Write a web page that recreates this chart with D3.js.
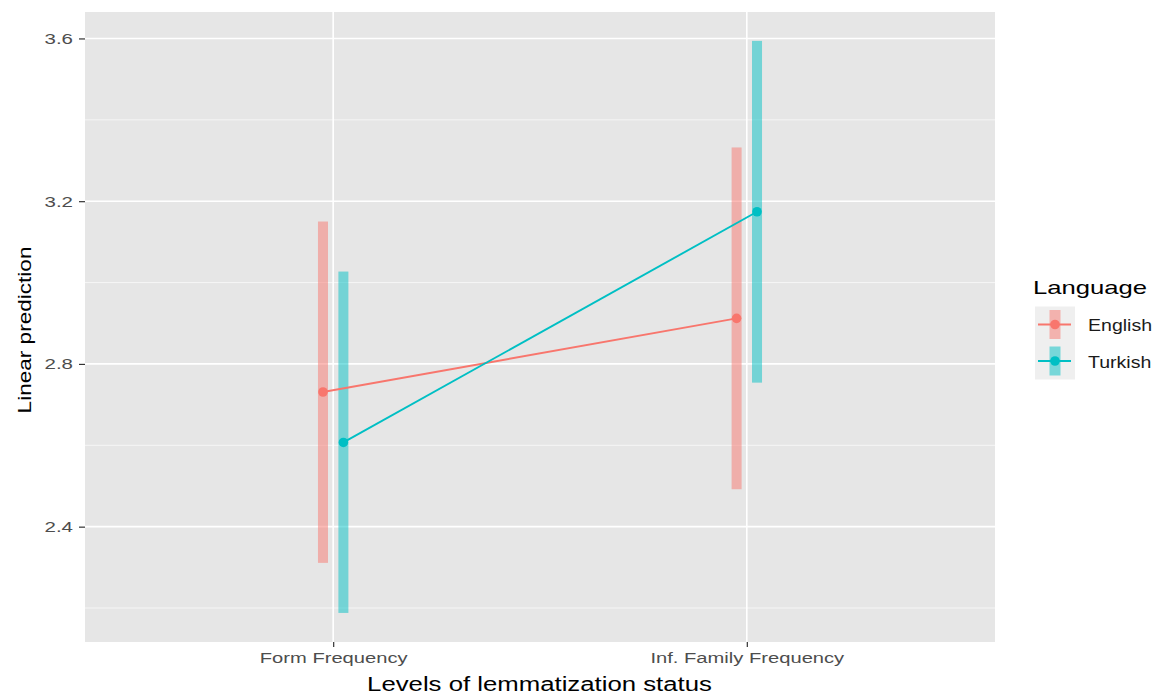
<!DOCTYPE html>
<html>
<head>
<meta charset="utf-8">
<script src="https://cdn.jsdelivr.net/npm/d3@7"></script>
<style>
  body { margin: 0; background: #fff; }
  text { font-family: "Liberation Sans", Arial, sans-serif; }
</style>
</head>
<body>
<script>
// data
var levels = ["Form Frequency", "Inf. Family Frequency"];
var languages = ["English", "Turkish"];
var colors = ["#F8766D", "#00BFC4"];
var fitEnglish = [2.731, 2.912];
var lowEnglish = [2.311, 2.492];
var highEnglish = [3.150, 3.332];
var fitTurkish = [2.607, 3.174];
var lowTurkish = [2.188, 2.754];
var highTurkish = [3.027, 3.594];
var yTicks = [2.4, 2.8, 3.2, 3.6];
var yMinor = [2.2, 2.6, 3.0, 3.4];

var series = [
  {lang: languages[0], fit: fitEnglish, low: lowEnglish, high: highEnglish},
  {lang: languages[1], fit: fitTurkish, low: lowTurkish, high: highTurkish}
];

var W = 1161, H = 698;
var panel = {left: 85, top: 12, right: 995, bottom: 642};

var svg = d3.select("body").append("svg")
    .attr("width", W).attr("height", H);

// the reference text is rendered wider than Liberation Sans, stretch it
function widen(sel, k) {
  sel.each(function() {
    d3.select(this)
      .attr("textLength", this.getComputedTextLength() * k)
      .attr("lengthAdjust", "spacingAndGlyphs");
  });
}

var x = d3.scalePoint().domain(levels)
    .range([panel.left, panel.right]).padding(0.6);
var dodge = d3.scalePoint().domain(languages).range([-10.2, 10.2]);
var y = d3.scaleLinear().domain([2.1165, 3.665])
    .range([panel.bottom, panel.top]);
var color = d3.scaleOrdinal().domain(languages).range(colors);

// panel background + grid
svg.append("rect")
  .attr("x", panel.left).attr("y", panel.top)
  .attr("width", panel.right - panel.left).attr("height", panel.bottom - panel.top)
  .attr("fill", "#E6E6E6");

svg.selectAll(".minor").data(yMinor).enter().append("line")
  .attr("x1", panel.left).attr("x2", panel.right)
  .attr("y1", d => y(d)).attr("y2", d => y(d))
  .attr("stroke", "#F7F7F7").attr("stroke-width", 0.9);

svg.selectAll(".major").data(yTicks).enter().append("line")
  .attr("x1", panel.left).attr("x2", panel.right)
  .attr("y1", d => y(d)).attr("y2", d => y(d))
  .attr("stroke", "#fff").attr("stroke-width", 1.6);

svg.selectAll(".vmajor").data(levels).enter().append("line")
  .attr("x1", d => x(d)).attr("x2", d => x(d))
  .attr("y1", panel.top).attr("y2", panel.bottom)
  .attr("stroke", "#fff").attr("stroke-width", 1.6);

// axes
var yAxis = svg.append("g")
  .attr("transform", "translate(" + panel.left + ",0)")
  .call(d3.axisLeft(y).tickValues(yTicks).tickFormat(d3.format(".1f")).tickSize(6).tickPadding(6));
var xAxis = svg.append("g")
  .attr("transform", "translate(0," + panel.bottom + ")")
  .call(d3.axisBottom(x).tickSize(5).tickPadding(5));

[yAxis, xAxis].forEach(function(a) {
  a.select(".domain").remove();
  a.selectAll(".tick line").attr("stroke", "#333").attr("stroke-width", 1.2);
  a.selectAll(".tick text").attr("fill", "#4D4D4D")
    .style("font-size", "15.5px").style("font-family", "Liberation Sans, Arial, sans-serif");
});
widen(yAxis.selectAll(".tick text"), 1.32);
widen(xAxis.selectAll(".tick text"), 1.3);

// error bars
series.forEach(function(s) {
  var g = svg.append("g");
  g.selectAll("rect").data(levels).enter().append("rect")
    .attr("x", (d) => x(d) + dodge(s.lang) - 5)
    .attr("width", 10)
    .attr("y", (d, i) => y(s.high[i]))
    .attr("height", (d, i) => y(s.low[i]) - y(s.high[i]))
    .attr("fill", color(s.lang)).attr("opacity", 0.5);
});

// lines + points
var line = d3.line();
series.forEach(function(s) {
  var pts = levels.map((d, i) => [x(d) + dodge(s.lang), y(s.fit[i])]);
  svg.append("path").attr("d", line(pts))
    .attr("fill", "none").attr("stroke", color(s.lang)).attr("stroke-width", 1.9);
  svg.selectAll(null).data(pts).enter().append("circle")
    .attr("cx", d => d[0]).attr("cy", d => d[1]).attr("r", 4.8)
    .attr("fill", color(s.lang));
});

// axis titles
svg.append("text")
  .attr("x", (panel.left + panel.right) / 2 - 0.5).attr("y", 691)
  .attr("text-anchor", "middle").style("font-size", "19.5px").attr("fill", "#000")
  .text("Levels of lemmatization status")
  .call(widen, 1.32);
svg.append("text")
  .attr("transform", "translate(31,330) rotate(-90)")
  .attr("text-anchor", "middle").style("font-size", "18.5px").attr("fill", "#000")
  .text("Linear prediction")
  .call(widen, 1.22);

// legend
var leg = svg.append("g").attr("transform", "translate(1034,0)");
leg.append("text").attr("x", -1).attr("y", 294)
  .style("font-size", "19px").attr("fill", "#000").text("Language")
  .call(widen, 1.35);
languages.forEach(function(l, i) {
  var cy = 324.5 + i * 36.5;
  var k = leg.append("g");
  k.append("rect").attr("x", 1).attr("y", cy - 18).attr("width", 40).attr("height", 36.5)
    .attr("fill", "#EFEFEF");
  k.append("rect").attr("x", 15.5).attr("y", cy - 14.5).attr("width", 11).attr("height", 29)
    .attr("fill", color(l)).attr("opacity", 0.5);
  k.append("line").attr("x1", 4).attr("x2", 37).attr("y1", cy).attr("y2", cy)
    .attr("stroke", color(l)).attr("stroke-width", 1.9);
  k.append("circle").attr("cx", 21).attr("cy", cy).attr("r", 4.8).attr("fill", color(l));
  k.append("text").attr("x", 54).attr("y", cy + 6.5)
    .style("font-size", "16px").attr("fill", "#1A1A1A").text(l)
    .call(widen, 1.22);
});
</script>
</body>
</html>
